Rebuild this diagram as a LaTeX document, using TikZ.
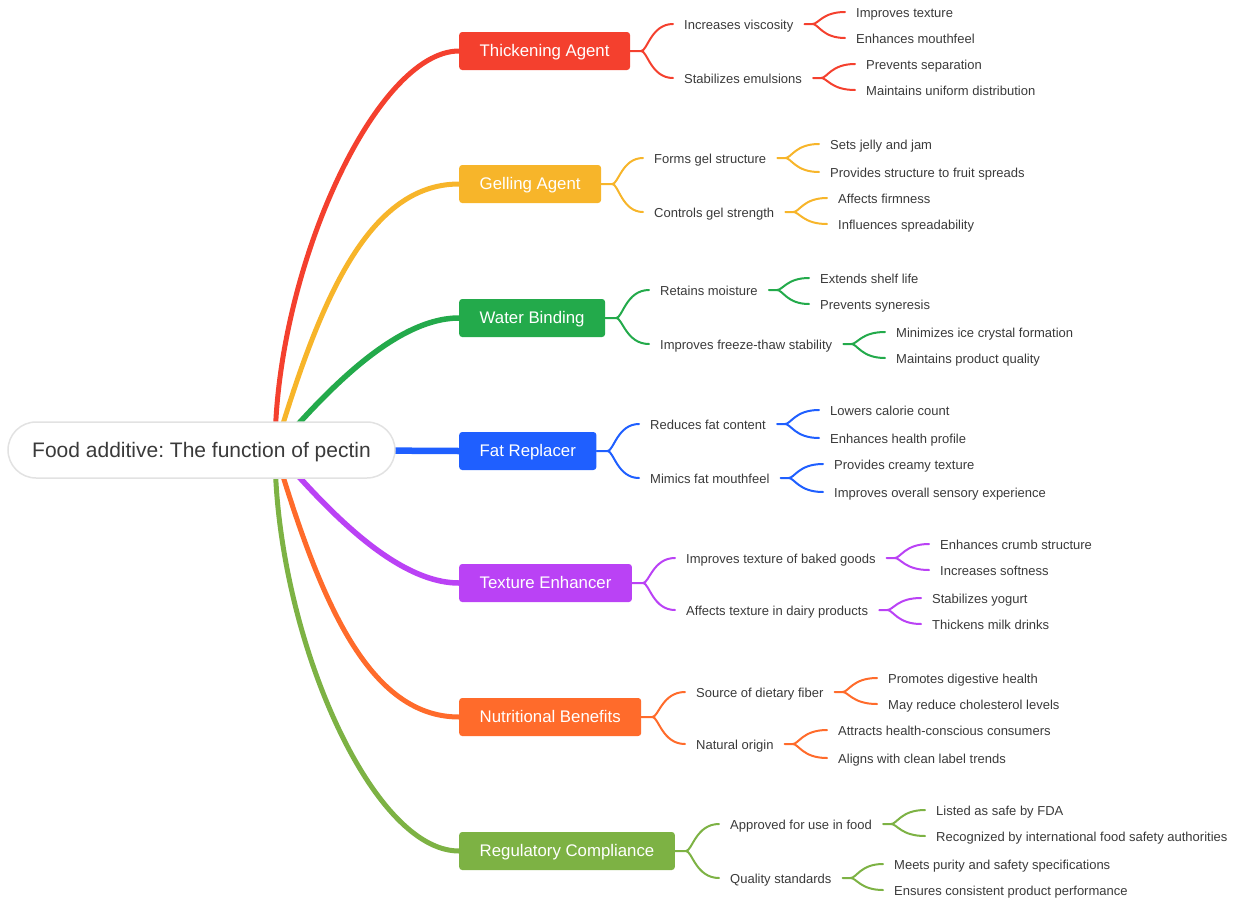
\documentclass[tikz,border=0pt]{standalone}
\usepackage{fontspec}
\setmainfont{Liberation Sans}
\frenchspacing
\usetikzlibrary{calc}
\definecolor{cthick}{HTML}{F4402E}
\definecolor{cgel}{HTML}{F7B52A}
\definecolor{cwater}{HTML}{23AA4B}
\definecolor{cfat}{HTML}{1F5FFF}
\definecolor{ctex}{HTML}{BA42F5}
\definecolor{cnutri}{HTML}{FF6B2B}
\definecolor{creg}{HTML}{7DB244}
\definecolor{txt}{HTML}{3A3A3A}
\definecolor{halo}{HTML}{E2E2E2}

\begin{document}
\begin{tikzpicture}[x=1pt,y=-1pt,line cap=round,
    root/.style={fill=white,draw=halo,line width=1.5pt,rounded corners=28pt,
      minimum width=387pt,minimum height=56pt,text=txt,text height=15pt,text depth=0pt,
      font=\fontsize{21}{25}\selectfont},
    branch/.style={fill=#1,text=white,rounded corners=3pt,anchor=west,inner xsep=20.5pt,
      text height=12pt,text depth=2pt,minimum height=38pt,font=\fontsize{16.8}{20}\selectfont},
    sub/.style={anchor=west,inner xsep=11pt,inner ysep=0pt,text=txt,text height=11.5pt,
      text depth=0pt,font=\fontsize{13}{15}\selectfont},
    fork/.style={to path={.. controls ($(\tikztostart)+(6,0)$) and
      ($(\tikztostart |- \tikztotarget)+(10,0)$) .. (\tikztotarget)}},
    trunk/.style={draw=#1,line width=5pt},
    twig/.style={draw=#1,line width=2pt}]

  \useasboundingbox (0,0) rectangle (1240,900);
  \coordinate (hub) at (275,450);

  % main branches
  \path (459,51) node[branch=cthick] (thick) {Thickening Agent};
  \path (459,184) node[branch=cgel] (gel) {Gelling Agent};
  \path (459,318) node[branch=cwater] (water) {Water Binding};
  \path (459,451) node[branch=cfat] (fat) {Fat Replacer};
  \path (459,583) node[branch=ctex] (texture) {Texture Enhancer};
  \path (459,717) node[branch=cnutri] (nutri) {Nutritional Benefits};
  \path (459,851) node[branch=creg] (reg) {Regulatory Compliance};

  \draw[trunk=cthick] (hub) .. controls (275,270) and (376,51) .. (thick.west);
  \draw[trunk=cgel] (hub) .. controls (317,310) and (365,184) .. (gel.west);
  \draw[trunk=cwater,line width=5.5pt] (hub) .. controls (315,405) and (390,318) .. (water.west);
  \draw[trunk=cfat,line width=6.5pt] (hub) -- (fat.west);
  \draw[trunk=ctex,line width=5.5pt] (hub) .. controls (315,495) and (390,583) .. (texture.west);
  \draw[trunk=cnutri] (hub) .. controls (317,590) and (365,717) .. (nutri.west);
  \draw[trunk=creg] (hub) .. controls (275,630) and (370,851) .. (reg.west);

  \path (201.5,450) node[root] (root) {Food additive: The function of pectin};

  % Thickening Agent
  \path (673,24) node[sub] (incv) {Increases viscosity};
  \path (673,78) node[sub] (stab) {Stabilizes emulsions};
  \path (845,12) node[sub] (imptex) {Improves texture};
  \path (845,38) node[sub] (enhmf) {Enhances mouthfeel};
  \path (855,64) node[sub] (prevsep) {Prevents separation};
  \path (855,90) node[sub] (uniform) {Maintains uniform distribution};
  \draw[twig=cthick] (thick.east) -- ++(11,0) coordinate (f) to[fork] (incv.west) (f) to[fork] (stab.west);
  \draw[twig=cthick] (incv.east) -- ++(8,0) coordinate (f) to[fork] (imptex.west) (f) to[fork] (enhmf.west);
  \draw[twig=cthick] (stab.east) -- ++(8,0) coordinate (f) to[fork] (prevsep.west) (f) to[fork] (uniform.west);

  % Gelling Agent
  \path (643,158) node[sub] (formgel) {Forms gel structure};
  \path (643,212) node[sub] (ctrlgel) {Controls gel strength};
  \path (819,144) node[sub] (jelly) {Sets jelly and jam};
  \path (819,172) node[sub] (fruit) {Provides structure to fruit spreads};
  \path (827,198) node[sub] (firm) {Affects firmness};
  \path (827,224) node[sub] (spread) {Influences spreadability};
  \draw[twig=cgel] (gel.east) -- ++(11,0) coordinate (f) to[fork] (formgel.west) (f) to[fork] (ctrlgel.west);
  \draw[twig=cgel] (formgel.east) -- ++(8,0) coordinate (f) to[fork] (jelly.west) (f) to[fork] (fruit.west);
  \draw[twig=cgel] (ctrlgel.east) -- ++(8,0) coordinate (f) to[fork] (firm.west) (f) to[fork] (spread.west);

  % Water Binding
  \path (649,290) node[sub] (retain) {Retains moisture};
  \path (649,344) node[sub] (freeze) {Improves freeze-thaw stability};
  \path (809,278) node[sub] (shelf) {Extends shelf life};
  \path (809,304) node[sub] (syner) {Prevents syneresis};
  \path (885,332) node[sub] (ice) {Minimizes ice crystal formation};
  \path (885,358) node[sub] (prodq) {Maintains product quality};
  \draw[twig=cwater] (water.east) -- ++(11,0) coordinate (f) to[fork] (retain.west) (f) to[fork] (freeze.west);
  \draw[twig=cwater] (retain.east) -- ++(8,0) coordinate (f) to[fork] (shelf.west) (f) to[fork] (syner.west);
  \draw[twig=cwater] (freeze.east) -- ++(8,0) coordinate (f) to[fork] (ice.west) (f) to[fork] (prodq.west);

  % Fat Replacer
  \path (639,424) node[sub] (redfat) {Reduces fat content};
  \path (639,478) node[sub] (mimic) {Mimics fat mouthfeel};
  \path (819,410) node[sub] (calorie) {Lowers calorie count};
  \path (819,438) node[sub] (health) {Enhances health profile};
  \path (823,464) node[sub] (creamy) {Provides creamy texture};
  \path (823,492) node[sub] (sensory) {Improves overall sensory experience};
  \draw[twig=cfat] (fat.east) -- ++(11,0) coordinate (f) to[fork] (redfat.west) (f) to[fork] (mimic.west);
  \draw[twig=cfat] (redfat.east) -- ++(8,0) coordinate (f) to[fork] (calorie.west) (f) to[fork] (health.west);
  \draw[twig=cfat] (mimic.east) -- ++(8,0) coordinate (f) to[fork] (creamy.west) (f) to[fork] (sensory.west);

  % Texture Enhancer
  \path (675,558) node[sub] (baked) {Improves texture of baked goods};
  \path (675,610) node[sub] (dairy) {Affects texture in dairy products};
  \path (929,544) node[sub] (crumb) {Enhances crumb structure};
  \path (929,570) node[sub] (soft) {Increases softness};
  \path (921,598) node[sub] (yogurt) {Stabilizes yogurt};
  \path (921,624) node[sub] (milk) {Thickens milk drinks};
  \draw[twig=ctex] (texture.east) -- ++(11,0) coordinate (f) to[fork] (baked.west) (f) to[fork] (dairy.west);
  \draw[twig=ctex] (baked.east) -- ++(8,0) coordinate (f) to[fork] (crumb.west) (f) to[fork] (soft.west);
  \draw[twig=ctex] (dairy.east) -- ++(8,0) coordinate (f) to[fork] (yogurt.west) (f) to[fork] (milk.west);

  % Nutritional Benefits
  \path (685,692) node[sub] (fiber) {Source of dietary fiber};
  \path (685,744) node[sub] (natural) {Natural origin};
  \path (877,678) node[sub] (digest) {Promotes digestive health};
  \path (877,704) node[sub] (chol) {May reduce cholesterol levels};
  \path (827,730) node[sub] (consumers) {Attracts health-conscious consumers};
  \path (827,758) node[sub] (clean) {Aligns with clean label trends};
  \draw[twig=cnutri] (nutri.east) -- ++(11,0) coordinate (f) to[fork] (fiber.west) (f) to[fork] (natural.west);
  \draw[twig=cnutri] (fiber.east) -- ++(8,0) coordinate (f) to[fork] (digest.west) (f) to[fork] (chol.west);
  \draw[twig=cnutri] (natural.east) -- ++(8,0) coordinate (f) to[fork] (consumers.west) (f) to[fork] (clean.west);

  % Regulatory Compliance
  \path (719,824) node[sub] (approved) {Approved for use in food};
  \path (719,878) node[sub] (quality) {Quality standards};
  \path (925,810) node[sub] (fda) {Listed as safe by FDA};
  \path (925,836) node[sub] (intl) {Recognized by international food safety authorities};
  \path (883,864) node[sub] (purity) {Meets purity and safety specifications};
  \path (883,890) node[sub] (consistent) {Ensures consistent product performance};
  \draw[twig=creg] (reg.east) -- ++(11,0) coordinate (f) to[fork] (approved.west) (f) to[fork] (quality.west);
  \draw[twig=creg] (approved.east) -- ++(8,0) coordinate (f) to[fork] (fda.west) (f) to[fork] (intl.west);
  \draw[twig=creg] (quality.east) -- ++(8,0) coordinate (f) to[fork] (purity.west) (f) to[fork] (consistent.west);

\end{tikzpicture}
\end{document}
